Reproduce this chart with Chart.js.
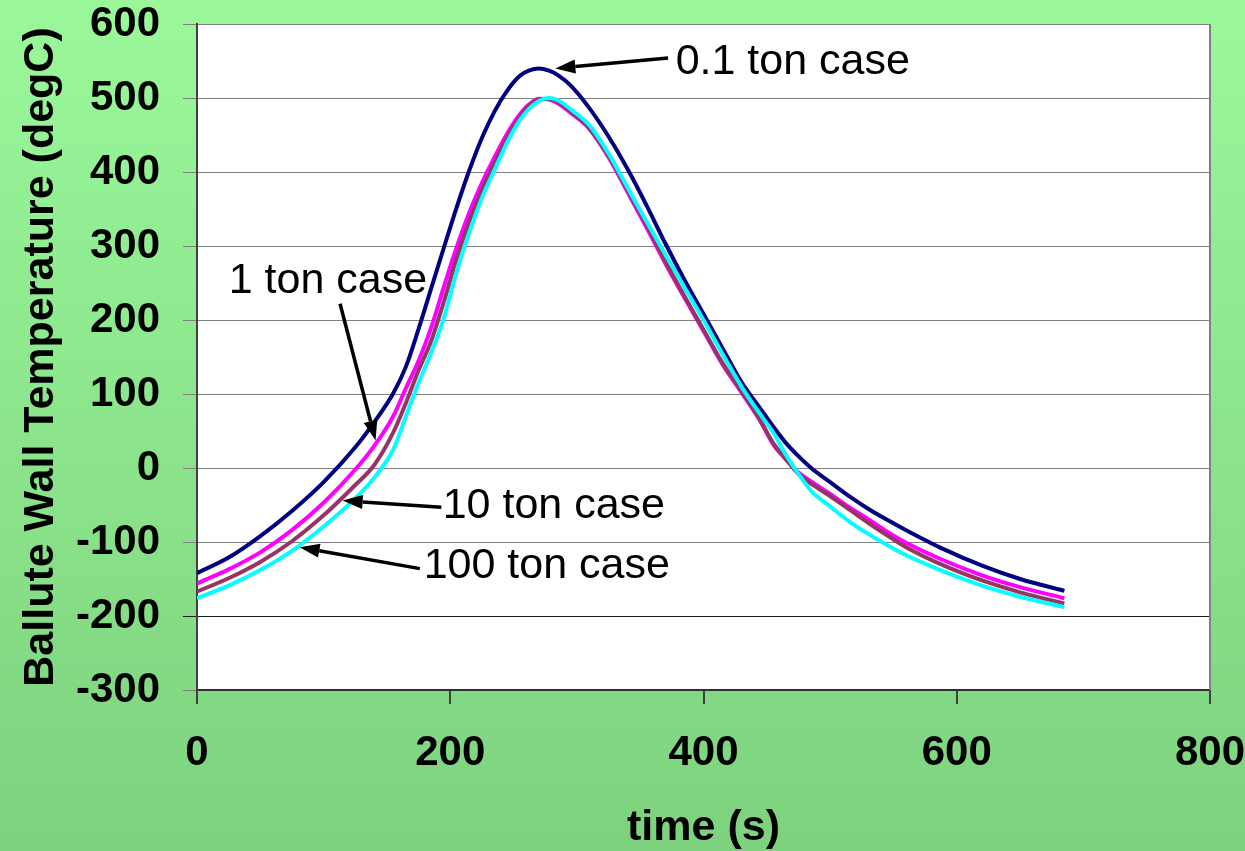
<!DOCTYPE html>
<html>
<head>
<meta charset="utf-8">
<script src="https://cdn.jsdelivr.net/npm/chart.js@4"></script>
<style>
  html, body { margin: 0; padding: 0; width: 1245px; height: 851px; overflow: hidden;
    background: linear-gradient(#9af89a, #7ed27e); }
  #wrap { position: relative; width: 1245px; height: 851px; }
</style>
</head>
<body>
<div id="wrap"><canvas id="c" width="1245" height="851"></canvas></div>
<script>
// Time of flight (s)
const timeS = [0, 25, 50, 75, 100, 125, 140, 155, 165, 175, 185, 195, 205, 215, 225,
  235, 245, 255, 262, 270, 278, 285, 295, 310, 325, 340, 355, 370, 385, 400,
  415, 430, 445, 455, 465, 475, 485, 500, 515, 530, 545, 560, 590, 620, 650, 685];

// Ballute wall temperature (degC) for each case
const case01t = [-142, -121, -92, -58, -19, 28, 62, 101, 137, 188, 243, 298, 352, 402, 446,
  482, 510, 530, 537, 540, 537, 531, 517, 486, 448, 404, 355, 303, 254, 208,
  162, 116, 80, 56, 34, 16, 0, -19, -38, -55, -70, -84, -110, -132, -150, -166];
const case1t = [-156, -137, -114, -84, -47, -2, 30, 70, 108, 145, 190, 245, 298, 345, 385,
  420, 452, 478, 491, 499, 498, 493, 480, 458, 420, 373, 325, 276, 230, 185,
  140, 102, 63, 32, 12, -6, -18, -35, -53, -69, -86, -101, -125, -145, -161, -176];
const case10t = [-167, -149, -127, -99, -64, -23, 4, 48, 88, 132, 172, 225, 283, 333, 375,
  412, 446, 474, 489, 498, 499, 495, 482, 459, 422, 376, 329, 279, 232, 187,
  142, 104, 64, 34, 12, -8, -21, -38, -56, -74, -91, -107, -132, -152, -168, -183];
const case100t = [-176, -159, -138, -112, -79, -41, -13, 25, 70, 115, 156, 203, 265, 318, 365,
  403, 440, 470, 485, 496, 500, 497, 485, 463, 425, 379, 333, 288, 244, 200,
  154, 110, 72, 48, 18, -8, -31, -52, -72, -89, -104, -118, -140, -159, -174, -188];

const seriesNames = ['0.1 ton case', '1 ton case', '10 ton case', '100 ton case'];

// Axis ranges and tick steps
const xRange = [0, 800];
const xStep = 200;
const yRange = [-300, 600];
const yStep = 100;

// Callout labels with arrows, anchored in data units (time, temperature)
const callouts = [
  { text: '0.1 ton case', label: [378, 548], tail: [372, 554], tip: [283, 540] },
  { text: '1 ton case',   label: [25, 253],  tail: [113, 222], tip: [141, 37] },
  { text: '10 ton case',  label: [194, -52], tail: [193, -53], tip: [115, -44] },
  { text: '100 ton case', label: [179, -132], tail: [176, -136], tip: [81, -107] }
];

const FONT = '"Liberation Sans", Arial, sans-serif';

const toPts = ys => ys.map((y, i) => ({ x: timeS[i], y }));

const plotFrame = {
  id: 'plotFrame',
  beforeDraw(chart) {
    const { ctx, chartArea: a } = chart;
    ctx.save();
    ctx.fillStyle = '#ffffff';
    ctx.fillRect(a.left, a.top, a.right - a.left, a.bottom - a.top);
    ctx.restore();
  },
  afterDraw(chart) {
    const { ctx, chartArea: a } = chart;
    ctx.save();
    ctx.strokeStyle = '#808080';
    ctx.lineWidth = 2;
    ctx.beginPath();
    ctx.moveTo(a.right, a.top);
    ctx.lineTo(a.right, a.bottom);
    ctx.stroke();
    ctx.restore();
  }
};

const calloutPlugin = {
  id: 'callouts',
  afterDatasetsDraw(chart) {
    const { ctx, scales: { x, y } } = chart;
    ctx.save();
    ctx.fillStyle = '#000';
    ctx.strokeStyle = '#000';
    ctx.lineWidth = 3.5;
    ctx.font = '43px ' + FONT;
    ctx.textAlign = 'left';
    ctx.textBaseline = 'middle';
    callouts.forEach(c => {
      const x0 = x.getPixelForValue(c.tail[0]), y0 = y.getPixelForValue(c.tail[1]);
      const x1 = x.getPixelForValue(c.tip[0]), y1 = y.getPixelForValue(c.tip[1]);
      const ang = Math.atan2(y1 - y0, x1 - x0);
      const headLen = 20, headHalf = 7;
      const bx = x1 - headLen * Math.cos(ang), by = y1 - headLen * Math.sin(ang);
      ctx.beginPath();
      ctx.moveTo(x0, y0);
      ctx.lineTo(bx, by);
      ctx.stroke();
      ctx.beginPath();
      ctx.moveTo(x1, y1);
      ctx.lineTo(bx + headHalf * Math.sin(ang), by - headHalf * Math.cos(ang));
      ctx.lineTo(bx - headHalf * Math.sin(ang), by + headHalf * Math.cos(ang));
      ctx.closePath();
      ctx.fill();
      ctx.fillText(c.text, x.getPixelForValue(c.label[0]), y.getPixelForValue(c.label[1]));
    });
    ctx.restore();
  }
};

const colors = ['#000080', '#ff00ff', '#993366', '#00ffff'];
const values = [case01t, case1t, case10t, case100t];

new Chart(document.getElementById('c'), {
  type: 'line',
  data: {
    datasets: values.map((v, i) => ({
      label: seriesNames[i],
      data: toPts(v),
      borderColor: colors[i],
      backgroundColor: colors[i],
      borderWidth: 4,
      pointRadius: 0,
      cubicInterpolationMode: 'monotone',
      fill: false,
      order: 4 - i
    }))
  },
  options: {
    responsive: false,
    animation: false,
    devicePixelRatio: 1,
    layout: { padding: { top: 24, right: 35, left: 0, bottom: 0 } },
    plugins: { legend: { display: false }, tooltip: { enabled: false } },
    scales: {
      x: {
        type: 'linear',
        min: xRange[0], max: xRange[1],
        afterFit(s) { s.height = 161; s.paddingLeft = 0; s.paddingRight = 0; },
        ticks: { stepSize: xStep, color: '#000', padding: 24,
          font: { family: FONT, size: 42, weight: 'bold' } },
        grid: { drawOnChartArea: false, drawTicks: true, tickLength: 14, color: '#404040', lineWidth: 2 },
        border: { color: '#303030', width: 2 },
        title: { display: true, text: 'time (s)', color: '#000',
          font: { family: FONT, size: 43, weight: 'bold', lineHeight: 1.05 }, padding: { top: 0, bottom: 0 } }
      },
      y: {
        min: yRange[0], max: yRange[1],
        afterFit(s) { s.width = 197; s.paddingTop = 0; s.paddingBottom = 0; },
        ticks: { stepSize: yStep, color: '#000', padding: 23,
          font: { family: FONT, size: 42, weight: 'bold' } },
        grid: { drawTicks: true, tickLength: 14,
          color: c => (c.tick && c.tick.value === -200) ? '#1a1a1a' : '#808080', lineWidth: 1 },
        border: { color: '#404040', width: 2 },
        title: { display: true, text: 'Ballute Wall Temperature (degC)', color: '#000',
          font: { family: FONT, size: 43, weight: 'bold' }, padding: { top: 15, bottom: 0 } }
      }
    }
  },
  plugins: [plotFrame, calloutPlugin]
});
</script>
</body>
</html>
